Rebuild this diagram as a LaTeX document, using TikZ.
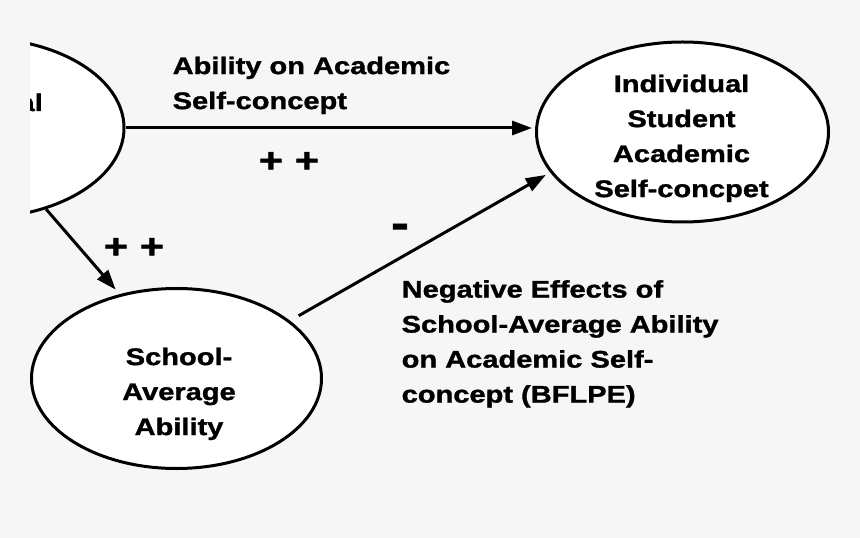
\documentclass[tikz,border=0pt]{standalone}
\usepackage{fontspec}
\newfontfamily\dfont{Liberation Sans Bold}[FakeStretch=1.21,FakeBold=1.3]
\usetikzlibrary{shapes.geometric,arrows.meta}
\definecolor{bg}{RGB}{246,246,246}
\begin{document}
\begin{tikzpicture}[x=1bp,y=-1bp,
  ell/.style={ellipse,draw,line width=3bp,fill=white,inner sep=0pt,
    minimum width=292bp,minimum height=180bp},
  txt/.style={inner sep=0pt,font=\dfont\fontsize{24bp}{35bp}\selectfont},
  sign/.style={inner sep=0pt,font=\dfont\fontsize{34bp}{36bp}\selectfont},
  arr/.style={line width=3bp,-{Triangle[length=20bp,width=14bp]}}]
\useasboundingbox (0,0) rectangle (860,538);
\fill[bg] (0,0) rectangle (860,538);
% left (cropped) ellipse
\begin{scope}
  \clip (30,0) rectangle (860,538);
  \node[ell] (ind) at (-22,128) {};
  \node[txt,anchor=base east] (indtext) at (43,111) {Individual};
\end{scope}
\node[ell] (ise) at (682.5,132) {};
\node[txt,align=center,anchor=north] (isetext) at (681.5,74.5)
  {Individual\\Student\\Academic\\Self-concpet};
\node[ell,minimum width=290bp] (sch) at (176.5,378.5) {};
\node[txt,align=center,anchor=north] (schtext) at (179,347.5)
  {School-\\Average\\Ability};
% labels
\node[txt,align=left,anchor=north west] (lbl1) at (172.5,56.5)
  {Ability on Academic\\Self-concept};
\node[txt,align=left,anchor=north west] (lbl2) at (401.5,280)
  {Negative Effects of\\School-Average Ability\\on Academic Self-\\concept (BFLPE)};
\node[sign] (pp1) at (289,162) {+\hspace{12bp}+};
\node[sign] (pp2) at (134,248) {+\hspace{12bp}+};
\node[sign,font=\dfont\fontsize{44bp}{46bp}\selectfont] (mn) at (400,231) {-};
% arrows
\draw[arr,shorten >=3bp] (ind.east) -- (ind.east -| ise.west);
\draw[arr,shorten >=6bp] (ind.-50) -- (sch.124);
\draw[arr,shorten <=10bp,shorten >=5bp] (sch.27) -- (ise.197);
\end{tikzpicture}
\end{document}
